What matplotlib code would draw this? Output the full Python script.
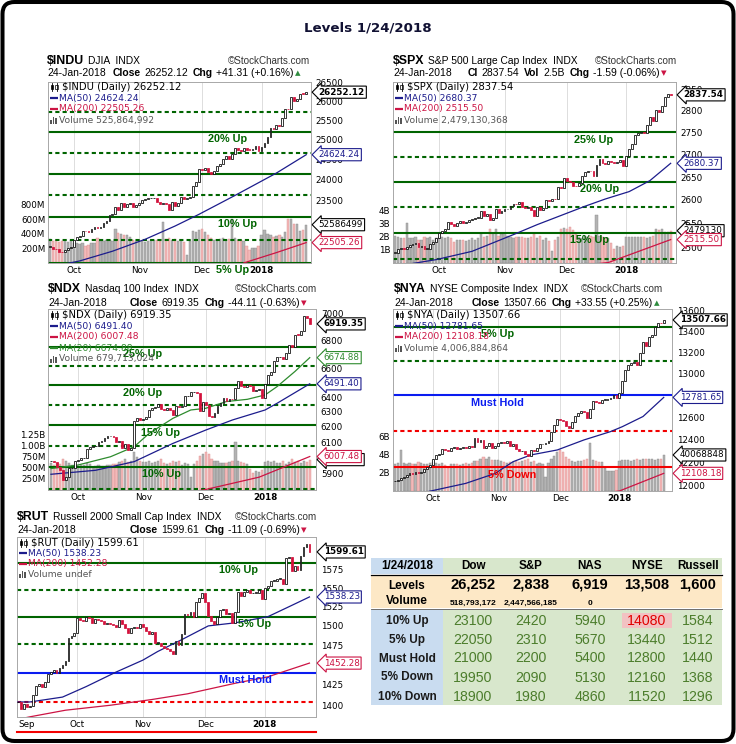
import numpy as np
import pandas as pd
import matplotlib
matplotlib.use('Agg')
import matplotlib.pyplot as plt
from matplotlib.patches import Rectangle, FancyBboxPatch
from matplotlib.ticker import FixedLocator, FixedFormatter, NullLocator
from matplotlib.transforms import blended_transform_factory

W, H = 736, 744

holidays = ['2017-09-04', '2017-11-23', '2017-12-25', '2018-01-01', '2018-01-15']

# ---------------- $INDU (from 2017-09-20) ----------------
indu_close = [22412, 22359, 22349, 22296, 22284, 22341, 22381, 22405,
              22557, 22642, 22661, 22775, 22774, 22761, 22831, 22873, 22841, 22871, 22957, 22997,
              23158, 23163, 23329, 23274, 23441, 23329, 23401, 23434, 23349, 23377,
              23436, 23517, 23539, 23549, 23557, 23563, 23462, 23422, 23440, 23410, 23272, 23458,
              23358, 23431, 23591, 23526, 23558, 23580, 23836, 23940, 24272,
              24231, 24290, 24180, 24140, 24212, 24329, 24386, 24504, 24585, 24509, 24652, 24792,
              24755, 24726, 24782, 24754, 24746, 24775, 24838, 24719,
              24825, 24922, 25075, 25296, 25283, 25386, 25370, 25575, 25803, 25793, 26116, 26017,
              26072, 26215, 26211, 26252.12]
indu_vol = [330, 300, 310, 290, 300, 320, 290, 310,
            280, 270, 260, 270, 240, 250, 270, 280, 345, 300, 300, 310, 320, 300, 470, 410, 400,
            380, 380, 360, 320, 300,
            310, 300, 290, 300, 320, 310, 320, 300, 560, 330, 350, 320, 330, 300, 310, 290, 110,
            300, 440, 430, 450,
            470, 420, 380, 340, 310, 320, 330, 340, 310, 330, 600, 350, 320, 310, 300, 230, 180,
            200, 210, 240,
            380, 460, 400, 380, 360, 370, 380, 360, 420, 600, 610, 530, 540, 440, 450, 526]
indu_ma50_dates = ['2017-09-20', '2017-10-04', '2017-10-19', '2017-11-03', '2017-11-17',
                   '2017-11-30', '2017-12-18', '2018-01-09', '2018-01-24']
indu_ma50 = [21950, 22086, 22307, 22582, 22890, 23165, 23614, 24166, 24624.24]
indu_ma200_dates = ['2017-12-21', '2018-01-09', '2018-01-24']
indu_ma200 = [22040, 22276, 22505.26]
indu_ticks = [23500, 24000, 24500, 25000, 25500, 26000, 26500]
indu_solid = [22050, 23100, 24150, 25200]
indu_dashed = [22575, 23625, 24675, 25725]
indu_tag_names = ['20% Up', '10% Up', '5% Up']
indu_tag_vals = [25200, 23100, 22050]

# ---------------- $SPX (from 2017-09-11) ----------------
spx_close = [2488.11, 2496.48, 2498.37, 2495.62, 2500.23, 2503.87, 2506.65, 2508.24, 2500.60,
             2502.22, 2496.66, 2496.84, 2507.04, 2510.06, 2519.36,
             2529.12, 2534.58, 2537.74, 2552.07, 2549.33, 2544.73, 2550.64, 2555.24, 2550.93,
             2553.17, 2557.64, 2559.36, 2561.26, 2562.10, 2575.21, 2564.98, 2569.13, 2557.15,
             2560.40, 2581.07, 2572.83, 2575.26,
             2579.36, 2579.85, 2587.84, 2591.13, 2590.64, 2594.38, 2584.62, 2582.30, 2584.84,
             2578.87, 2564.62, 2585.64, 2578.85, 2582.14, 2599.03, 2597.08, 2602.42, 2601.42,
             2627.04, 2626.07, 2647.58,
             2642.22, 2639.44, 2629.57, 2629.27, 2636.98, 2651.50, 2659.99, 2664.11, 2662.85,
             2652.01, 2675.81, 2690.16, 2681.47, 2679.25, 2684.57, 2683.34, 2680.50, 2682.62,
             2687.54, 2673.61,
             2695.81, 2713.06, 2723.99, 2743.15, 2747.71, 2751.29, 2748.23, 2767.56, 2786.24,
             2776.42, 2802.56, 2798.03, 2810.30, 2832.97, 2839.13, 2837.54]
spx_vol = [2.1, 2.0, 1.9, 1.9, 3.1, 1.9, 1.9, 2.0, 1.8, 1.8, 2.0, 1.9, 2.0, 1.8, 1.9,
           2.0, 2.0, 1.9, 2.0, 1.9, 1.6, 1.8, 1.8, 1.8, 1.7, 1.8, 1.9, 1.8, 1.9, 2.3, 2.0, 2.1,
           2.6, 2.3, 2.6, 2.1, 2.2,
           2.3, 2.1, 2.0, 1.9, 2.0, 2.0, 2.0, 1.9, 1.9, 2.0, 2.2, 1.9, 2.1, 1.8, 1.9, 1.7, 0.9,
           1.8, 2.0, 2.6, 2.7,
           2.6, 2.8, 2.5, 2.2, 2.0, 1.9, 2.1, 2.0, 2.1, 2.0, 3.7, 2.1, 2.0, 1.9, 1.9, 1.5, 1.1,
           1.3, 1.2, 1.3,
           2.0, 2.0, 2.0, 2.0, 2.0, 2.0, 2.0, 1.9, 2.0, 2.1, 2.6, 2.5, 2.6, 2.4, 2.4, 2.48]
spx_ma50_dates = ['2017-09-11', '2017-09-29', '2017-10-17', '2017-11-06', '2017-11-16',
                  '2017-11-28', '2017-12-11', '2017-12-20', '2018-01-03', '2018-01-12',
                  '2018-01-24']
spx_ma50 = [2460, 2474, 2491, 2526, 2547, 2564, 2586, 2602, 2618, 2642, 2680.37]
spx_ma200_dates = ['2017-09-11', '2017-12-21', '2018-01-24']
spx_ma200 = [2420, 2468, 2515.50]
spx_ticks = [2500, 2550, 2600, 2650, 2700, 2750, 2800, 2850]
spx_solid = [2530, 2640, 2750]
spx_dashed = [2475, 2585, 2695]
spx_tag_names = ['25% Up', '20% Up', '15% Up']
spx_tag_vals = [2750, 2640, 2530]

# ---------------- $NDX (from 2017-09-19) ----------------
ndx_close = [5979, 5975, 5940, 5925, 5860, 5875, 5935, 5936, 5979,
             5983, 5998, 5999, 6054, 6068, 6072, 6075, 6100, 6110, 6125, 6141, 6142, 6133, 6098,
             6106, 6062, 6085, 6049, 6065, 6239, 6256, 6248,
             6254, 6265, 6313, 6327, 6334, 6353, 6319, 6316, 6325, 6312, 6281, 6342, 6330, 6343,
             6406, 6411, 6432, 6433, 6428, 6304, 6367,
             6347, 6271, 6265, 6294, 6341, 6360, 6396, 6375, 6388, 6387, 6460, 6509, 6477, 6470,
             6485, 6479, 6445, 6448, 6454, 6397,
             6488, 6556, 6575, 6653, 6677, 6680, 6667, 6707, 6762, 6749, 6841, 6839, 6865, 6979,
             6963, 6919.35]
ndx_vol = [600, 560, 610, 590, 700, 650, 600, 560, 580,
           540, 560, 550, 600, 580, 520, 540, 560, 540, 530, 560, 570, 590, 580, 620, 650, 700,
           620, 640, 860, 740, 650,
           630, 620, 640, 600, 620, 640, 700, 600, 580, 600, 640, 620, 640, 560, 600, 590, 300,
           580, 640, 760, 800,
           840, 800, 700, 650, 640, 600, 610, 600, 620, 640, 1070, 660, 620, 600, 580, 480, 380,
           420, 400, 450,
           620, 640, 620, 640, 600, 600, 640, 580, 620, 700, 620, 640, 600, 640, 620, 680]
ndx_ma50_dates = ['2017-09-19', '2017-10-10', '2017-10-27', '2017-11-15', '2017-12-01',
                  '2017-12-14', '2018-01-02', '2018-01-08', '2018-01-24']
ndx_ma50 = [5895, 5920, 5975, 6092, 6179, 6246, 6313, 6358, 6491.40]
ndx_ma200_dates = ['2017-09-19', '2017-12-01', '2017-12-28', '2018-01-24']
ndx_ma200 = [5620, 5800, 5877, 6007.48]
ndx_ma20_dates = ['2017-09-19', '2017-10-02', '2017-10-17', '2017-10-27', '2017-11-03',
                  '2017-11-15', '2017-11-24', '2017-12-01', '2017-12-12', '2017-12-21',
                  '2018-01-02', '2018-01-08', '2018-01-17', '2018-01-24']
ndx_ma20 = [5931, 5953, 6006, 6071, 6157, 6257, 6313, 6324, 6370, 6385, 6415, 6472, 6577, 6674.88]
ndx_ticks = [5900, 6100, 6200, 6300, 6400, 6600, 6700, 6800, 7000]
ndx_solid = [5940, 6210, 6480, 6750]
ndx_dashed = [5805, 6075, 6345, 6615]
ndx_tag_names = ['25% Up', '20% Up', '15% Up', '10% Up']
ndx_tag_vals = [6750, 6480, 6210, 5940]

# ---------------- $NYA (from 2017-09-13) ----------------
nya_close = [12040, 12055, 12070, 12080, 12095, 12110, 12100, 12120, 12110, 12120, 12150,
             12160, 12180,
             12230, 12270, 12280, 12320, 12310, 12300, 12330, 12340, 12320, 12330, 12340, 12330,
             12350, 12340, 12420, 12380, 12400, 12330, 12350, 12370, 12330, 12350,
             12370, 12380, 12375, 12390, 12350, 12360, 12320, 12300, 12300, 12280, 12260, 12310,
             12300, 12330, 12360, 12360, 12370, 12390, 12470, 12530, 12590,
             12580, 12570, 12520, 12510, 12560, 12610, 12640, 12660, 12650, 12600, 12680, 12750,
             12740, 12730, 12760, 12760, 12770, 12780, 12800, 12780,
             12820, 12930, 13030, 13080, 13100, 13110, 13080, 13190, 13300, 13260, 13340, 13360,
             13440, 13480, 13474.11, 13507.66]
nya_vol = [3.0, 3.1, 4.6, 3.1, 3.0, 3.1, 3.0, 3.0, 3.2, 3.1, 3.0, 3.0, 3.1,
           3.2, 3.1, 3.0, 3.1, 2.9, 2.6, 3.0, 3.0, 3.0, 2.9, 3.0, 3.1, 3.0, 3.1, 3.3, 3.3, 3.5,
           3.8, 3.6, 3.8, 3.4, 3.4,
           3.4, 3.3, 3.2, 3.1, 3.2, 3.2, 3.3, 3.2, 3.3, 3.4, 3.6, 3.2, 3.3, 3.0, 3.1, 3.0, 1.6,
           3.1, 3.6, 3.9, 4.3,
           4.6, 4.3, 3.8, 3.5, 3.3, 3.2, 3.3, 3.3, 3.4, 3.5, 5.3, 3.4, 3.3, 3.2, 3.2, 2.5, 2.2,
           2.2, 2.2, 2.3,
           3.3, 3.4, 3.4, 3.4, 3.3, 3.4, 3.5, 3.4, 3.5, 3.6, 3.5, 3.5, 3.4, 3.6, 3.5, 4.0]
nya_ma50_dates = ['2017-09-13', '2017-09-29', '2017-10-17', '2017-10-31', '2017-11-08',
                  '2017-11-16', '2017-11-30', '2017-12-13', '2017-12-27', '2018-01-03',
                  '2018-01-12', '2018-01-24']
nya_ma50 = [11900, 11956, 12022, 12108, 12209, 12268, 12312, 12400, 12474, 12518, 12609, 12781.65]
nya_ma200_dates = ['2017-09-13', '2018-01-02', '2018-01-24']
nya_ma200 = [11700, 11957, 12108.18]
nya_ticks = [12000, 12200, 12400, 12600, 13000, 13200, 13400, 13600]
nya_green_solid = [13440]
nya_green_dashed = [13120]
nya_must_hold = [12800]
nya_red_dashed = [12480]
nya_red_solid = [12160]

# ---------------- $RUT (from 2017-09-01) ----------------
rut_close = [1404, 1396, 1401, 1398, 1399, 1413, 1424, 1426, 1423, 1428, 1438, 1441, 1443,
             1440, 1446, 1450, 1455, 1484, 1487, 1491,
             1510, 1508, 1507, 1511, 1510, 1504, 1509, 1508, 1506, 1502, 1504, 1503, 1501, 1498,
             1508, 1503, 1497, 1491, 1497, 1499, 1497, 1503,
             1499, 1493, 1490, 1492, 1478, 1478, 1474, 1472, 1470, 1468, 1464, 1480, 1475, 1490,
             1515, 1514, 1518, 1512, 1531, 1537, 1544,
             1532, 1513, 1506, 1503, 1511, 1521, 1522, 1516, 1517, 1504, 1518, 1545, 1540, 1545,
             1548, 1543, 1544, 1544, 1548, 1536,
             1550, 1553, 1560, 1560, 1563, 1563, 1555, 1591, 1592, 1573, 1580, 1574, 1594, 1606,
             1610.70, 1599.61]
rut_ma50_dates = ['2017-09-01', '2017-09-08', '2017-09-25', '2017-10-05', '2017-10-19',
                  '2017-11-01', '2017-11-08', '2017-11-20', '2017-12-04', '2017-12-15',
                  '2018-01-03', '2018-01-12', '2018-01-24']
rut_ma50 = [1404, 1404, 1410, 1423, 1441, 1456, 1467, 1482, 1500, 1504, 1512, 1525, 1538.23]
rut_ma200_dates = ['2017-09-01', '2017-09-08', '2017-09-26', '2017-10-17', '2017-11-06',
                   '2017-11-22', '2017-12-15', '2018-01-03', '2018-01-24']
rut_ma200 = [1383, 1386, 1394, 1400, 1407, 1414, 1427, 1435, 1452.28]
rut_ticks = [1400, 1425, 1475, 1500, 1525, 1550, 1575]
rut_green_solid = [1584, 1512]
rut_green_dashed = [1548, 1476]
rut_must_hold = [1440]
rut_red_dashed = [1404]
rut_red_solid = [1368]

# ---------------- table ----------------
tbl_date = '1/24/2018'
tbl_cols = ['Dow', 'S&P', 'NAS', 'NYSE', 'Russell']
tbl_levels = ['26,252', '2,838', '6,919', '13,508', '1,600']
tbl_volume = ['518,793,172', '2,447,566,185', '0', '', '']
tbl_rows = ['10% Up', '5% Up', 'Must Hold', '5% Down', '10% Down']
tbl_vals = [[23100, 2420, 5940, 14080, 1584],
            [22050, 2310, 5670, 13440, 1512],
            [21000, 2200, 5400, 12800, 1440],
            [19950, 2090, 5130, 12160, 1368],
            [18900, 1980, 4860, 11520, 1296]]

GREEN = '#006400'
BLUE = '#0a1cf0'
RED = '#f20000'
NAVY = '#1c1c8c'
CRIMSON = '#cc1444'
MA20C = '#2e8b2e'
SANS = 'Liberation Sans'

plt.rcParams['font.family'] = 'DejaVu Sans'

fig = plt.figure(figsize=(W / 100, H / 100), dpi=100)
renderer = fig.canvas.get_renderer()

tdays = pd.bdate_range('2017-08-28', '2018-01-24')
tdays = tdays[~tdays.isin(pd.to_datetime(holidays))]


def draw_panel(box, start, close, vol, ylim, yticks, xlim, vtop, vticks, vlabels,
               lines, tags, mas, boxes, first_label=None):
    l, t, r, b = box
    axv = fig.add_axes([l / W, 1 - b / H, (r - l) / W, (b - t) / H])
    ax = axv.twinx()
    days = tdays[tdays >= pd.Timestamp(start)]
    n = len(days)
    assert n == len(close), (start, n, len(close))
    x = np.arange(n)
    c = np.array(close, float)
    o = np.r_[c[0], c[:-1]]
    dn = c < o

    if vol is not None:
        assert len(vol) == n
        axv.bar(x, vol, width=0.75, color=np.where(dn, '#f3b9b9', '#b3b3b3'),
                edgecolor=np.where(dn, '#dd9090', '#8a8a8a'), linewidth=0.3, zorder=1)
        axv.set_yticks(vticks)
        axv.set_yticklabels(vlabels)
    else:
        axv.set_yticks([])
    axv.set_ylim(0, vtop)

    months = [i for i in range(1, n) if days[i].month != days[i - 1].month]
    labels = ['2018' if days[i].year == 2018 else days[i].strftime('%b') for i in months]
    for i in months:
        axv.axvline(i, color='#d8d8d8', lw=0.6, zorder=0)
    if first_label:
        months = [0] + months
        labels = [first_label] + labels
    axv.set_xticks(months)
    axv.set_xticklabels(labels)
    for lab in axv.get_xticklabels():
        if lab.get_text() == '2018':
            lab.set_fontweight('bold')
        if lab.get_text() == first_label:
            lab.set_ha('left')
    axv.tick_params(axis='x', length=0, pad=2.2, labelsize=6.3)
    axv.tick_params(axis='y', length=0, pad=2, labelsize=6.3)

    ax.set_yscale('log')
    tr = blended_transform_factory(ax.transAxes, ax.transData)
    for val, col, dashed in lines:
        ax.axhline(val, color=col, lw=1.5, ls=(0, (2.0, 1.5)) if dashed else '-',
                   zorder=2, clip_on=val >= ylim[0])
    for name, val, col, xf in tags:
        ax.annotate(name, xy=(xf, val), xycoords=tr, xytext=(0, -1.6),
                    textcoords='offset points', ha='center', va='top', fontsize=7.8,
                    fontweight='bold', color=col, family=SANS, annotation_clip=False,
                    zorder=6)
    for dates, vals, col in mas:
        xi = [days.get_loc(pd.Timestamp(d)) for d in dates]
        ax.plot(xi, vals, color=col, lw=0.9, zorder=3)

    lo = np.minimum(o, c)
    hi = np.maximum(np.maximum(o, c), lo * 1.0004)
    ax.bar(x, hi - lo, bottom=lo, width=0.62, color=np.where(dn, '#d3123c', 'white'),
           edgecolor=np.where(dn, '#d3123c', 'black'), linewidth=0.55, zorder=4)
    ax.set_ylim(*ylim)
    ax.yaxis.set_major_locator(FixedLocator(yticks))
    ax.yaxis.set_major_formatter(FixedFormatter([str(v) for v in yticks]))
    ax.yaxis.set_minor_locator(NullLocator())
    ax.tick_params(axis='y', which='both', length=0, pad=3.5, labelsize=6.3)

    for txt, val, col, bold, onvol in boxes:
        if onvol:
            xy, xyc = (1, val / vtop), 'axes fraction'
        else:
            xy, xyc = (1, val), tr
        ax.annotate(txt, xy=xy, xycoords=xyc, xytext=(5.5, 0), textcoords='offset points',
                    ha='left', va='center', fontsize=6.3,
                    fontweight='bold' if bold else 'normal', color=col,
                    bbox=dict(boxstyle='larrow,pad=0.18', fc='white', ec=col, lw=0.8),
                    annotation_clip=False, zorder=10)

    for a in (axv, ax):
        for s in a.spines.values():
            s.set_color('#a8a8a8')
            s.set_linewidth(0.6)
    axv.set_xlim(*xlim)


def green_lines(solid, dashed):
    return [(v, GREEN, False) for v in solid] + [(v, GREEN, True) for v in dashed]


# INDU
draw_panel((48, 82, 311, 263), '2017-09-20', indu_close, indu_vol,
           (22040, 26527), indu_ticks,
           (-0.6, 87.6), 2486, [200, 400, 600, 800], ['200M', '400M', '600M', '800M'],
           green_lines(indu_solid, indu_dashed),
           [(nm, v, GREEN, xf) for nm, v, xf in zip(indu_tag_names, indu_tag_vals,
                                                    [0.684, 0.719, 0.703])],
           [(indu_ma50_dates, indu_ma50, NAVY), (indu_ma200_dates, indu_ma200, CRIMSON)],
           [('26252.12', indu_close[-1], 'black', True, False),
            ('24624.24', indu_ma50[-1], NAVY, False, False),
            ('52586499', indu_vol[-1], 'black', False, True),
            ('22505.26', indu_ma200[-1], CRIMSON, False, False)])

# SPX
draw_panel((393, 82, 676, 263), '2017-09-11', spx_close, spx_vol,
           (2467, 2868), spx_ticks,
           (-0.6, 94.8), 13.9, [1, 2, 3, 4], ['1B', '2B', '3B', '4B'],
           green_lines(spx_solid, spx_dashed),
           [(nm, v, GREEN, xf) for nm, v, xf in zip(spx_tag_names, spx_tag_vals,
                                                    [0.707, 0.731, 0.696])],
           [(spx_ma50_dates, spx_ma50, NAVY), (spx_ma200_dates, spx_ma200, CRIMSON)],
           [('2837.54', spx_close[-1], 'black', True, False),
            ('2680.37', spx_ma50[-1], NAVY, False, False),
            ('2479130', spx_vol[-1], 'black', False, True),
            ('2515.50', spx_ma200[-1], CRIMSON, False, False)])

# NDX
draw_panel((48, 309, 316, 490), '2017-09-19', ndx_close, ndx_vol,
           (5797, 7030), ndx_ticks,
           (-1.0, 89.1), 4051, [250, 500, 750, 1000, 1250],
           ['250M', '500M', '750M', '1.00B', '1.25B'],
           green_lines(ndx_solid, ndx_dashed),
           [(nm, v, GREEN, xf) for nm, v, xf in zip(ndx_tag_names, ndx_tag_vals,
                                                    [0.354, 0.354, 0.418, 0.425])],
           [(ndx_ma50_dates, ndx_ma50, NAVY), (ndx_ma200_dates, ndx_ma200, CRIMSON),
            (ndx_ma20_dates, ndx_ma20, MA20C)],
           [('6919.35', ndx_close[-1], 'black', True, False),
            ('6674.88', ndx_ma20[-1], MA20C, False, False),
            ('6491.40', ndx_ma50[-1], NAVY, False, False),
            ('6797130', ndx_vol[-1], 'black', False, True),
            ('6007.48', ndx_ma200[-1], CRIMSON, False, False)])

# NYA
draw_panel((393, 309, 672, 491), '2017-09-13', nya_close, nya_vol,
           (11957, 13613), nya_ticks,
           (-0.6, 93.8), 20.2, [2, 4, 6], ['2B', '4B', '6B'],
           green_lines(nya_green_solid, nya_green_dashed)
           + [(v, BLUE, False) for v in nya_must_hold]
           + [(v, RED, True) for v in nya_red_dashed]
           + [(v, RED, False) for v in nya_red_solid],
           [('5% Up', nya_green_solid[0], GREEN, 0.376),
            ('Must Hold', nya_must_hold[0], BLUE, 0.373),
            ('5% Down', nya_red_solid[0], RED, 0.427)],
           [(nya_ma50_dates, nya_ma50, NAVY), (nya_ma200_dates, nya_ma200, CRIMSON)],
           [('13507.66', nya_close[-1], 'black', True, False),
            ('12781.65', nya_ma50[-1], NAVY, False, False),
            ('40068848', nya_vol[-1], 'black', False, True),
            ('12108.18', nya_ma200[-1], CRIMSON, False, False)])

# RUT
draw_panel((17, 537, 316, 717), '2017-09-01', rut_close, None,
           (1385.8, 1620.5), rut_ticks,
           (-0.3, 100.2), 1, [], [],
           green_lines(rut_green_solid, rut_green_dashed)
           + [(v, BLUE, False) for v in rut_must_hold]
           + [(v, RED, True) for v in rut_red_dashed]
           + [(v, RED, False) for v in rut_red_solid],
           [('10% Up', rut_green_solid[0], GREEN, 0.742),
            ('5% Up', rut_green_solid[1], GREEN, 0.796),
            ('Must Hold', rut_must_hold[0], BLUE, 0.763)],
           [(rut_ma50_dates, rut_ma50, NAVY), (rut_ma200_dates, rut_ma200, CRIMSON)],
           [('1599.61', rut_close[-1], 'black', True, False),
            ('1538.23', rut_ma50[-1], NAVY, False, False),
            ('1452.28', rut_ma200[-1], CRIMSON, False, False)],
           first_label='Sep')

# ---------------- overlay: headers, legends, table, frame ----------------
ov = fig.add_axes([0, 0, 1, 1], zorder=5)
ov.set_xlim(0, W)
ov.set_ylim(H, 0)
ov.axis('off')


def header(x1, y1, sym, desc, right_x, y2, chain_x, parts, up):
    t = ov.text(x1, y1, sym, fontsize=8.9, fontweight='bold', family=SANS, va='baseline')
    x = x1 + t.get_window_extent(renderer).width + 4
    ov.text(x, y1, desc, fontsize=7.4, family=SANS, va='baseline')
    ov.text(right_x, y1, '©StockCharts.com', fontsize=7.1, family=SANS, ha='right',
            va='baseline', color='#333333')
    ov.text(x1, y2, '24-Jan-2018', fontsize=7.5, family=SANS, va='baseline')
    x = chain_x
    for k, p in enumerate(parts):
        t = ov.text(x, y2, p, fontsize=7.5, family=SANS, va='baseline',
                    fontweight='bold' if k % 2 == 0 else 'normal')
        x += t.get_window_extent(renderer).width + (3.3 if k % 2 == 0 else 5)
    ov.text(x - 3.5, y2 - 0.5, '▲' if up else '▼', fontsize=5.2, va='baseline',
            color='#2e8b3e' if up else '#cc1444')


header(47, 64, '$INDU', 'DJIA  INDX', 310, 76, 112.7,
       ['Close', '26252.12', 'Chg', '+41.31 (+0.16%)'], True)
header(393, 64, '$SPX', 'S&P 500 Large Cap Index  INDX', 677, 76, 468,
       ['Cl', '2837.54', 'Vol', '2.5B', 'Chg', '-1.59 (-0.06%)'], False)
header(48, 292, '$NDX', 'Nasdaq 100 Index  INDX', 317, 306, 130,
       ['Close', '6919.35', 'Chg', '-44.11 (-0.63%)'], False)
header(394, 292, '$NYA', 'NYSE Composite Index  INDX', 663, 306, 472,
       ['Close', '13507.66', 'Chg', '+33.55 (+0.25%)'], True)
header(17, 520, '$RUT', 'Russell 2000 Small Cap Index  INDX', 317, 533, 130,
       ['Close', '1599.61', 'Chg', '-11.09 (-0.69%)'], False)


def legend(l, y0, rows, step=11):
    for k, (kind, txt) in enumerate(rows):
        y = y0 + k * step
        if kind == 'price':
            for dx, fc in ((0, 'black'), (4.5, 'white')):
                ov.plot([l + 4 + dx, l + 4 + dx], [y - 4, y + 4], color='black', lw=0.6)
                ov.add_patch(Rectangle((l + 2.8 + dx, y - 2.2), 2.4, 4.4, fc=fc,
                                       ec='black', lw=0.5))
            ov.text(l + 14, y, txt, fontsize=7.2, va='center', color='black')
        elif kind == 'vol':
            for dx, hh in ((0, 4), (2.5, 7), (5, 5.5)):
                ov.add_patch(Rectangle((l + 2 + dx, y + 3.5 - hh), 1.8, hh, fc='#555555',
                                       ec='none'))
            ov.text(l + 11, y, txt, fontsize=6.6, va='center', color='#555555')
        else:
            col = {'ma50': NAVY, 'ma200': CRIMSON, 'ma20': MA20C}[kind]
            ov.plot([l + 2, l + 10], [y, y], color=col, lw=1.6, solid_capstyle='butt')
            ov.text(l + 11, y, txt, fontsize=6.6, va='center', color=col)


legend(48, 87, [('price', '$INDU (Daily) 26252.12'), ('ma50', 'MA(50) 24624.24'),
                ('ma200', 'MA(200) 22505.26'), ('vol', 'Volume 525,864,992')])
legend(393, 87, [('price', '$SPX (Daily) 2837.54'), ('ma50', 'MA(50) 2680.37'),
                 ('ma200', 'MA(200) 2515.50'), ('vol', 'Volume 2,479,130,368')])
legend(48, 315, [('price', '$NDX (Daily) 6919.35'), ('ma50', 'MA(50) 6491.40'),
                 ('ma200', 'MA(200) 6007.48'), ('ma20', 'MA(20) 6674.88'),
                 ('vol', 'Volume 679,713,024')])
legend(393, 315, [('price', '$NYA (Daily) 13507.66'), ('ma50', 'MA(50) 12781.65'),
                  ('ma200', 'MA(200) 12108.18'), ('vol', 'Volume 4,006,884,864')])
legend(17, 543, [('price', '$RUT (Daily) 1599.61'), ('ma50', 'MA(50) 1538.23'),
                 ('ma200', 'MA(200) 1452.28'), ('vol', 'Volume undef')], step=10.4)

# title
ov.text(368, 28, 'Levels 1/24/2018', fontsize=9.6, fontweight='bold', ha='center',
        va='center', color='#111133')

# table
CELL_BLUE = '#c9dcf0'
CELL_GREEN = '#d8e7cc'
CELL_PEACH = '#fde8c6'
VAL_GREEN = '#4c7d2c'
col_x = [473, 531, 590, 647, 698]
row_y = [621, 640, 658.5, 677.5, 697]
ov.add_patch(Rectangle((371, 558), 72, 16, fc=CELL_BLUE, ec='none'))
ov.add_patch(Rectangle((443, 558), 279, 16, fc=CELL_GREEN, ec='none'))
ov.add_patch(Rectangle((371, 575), 351, 33, fc=CELL_PEACH, ec='none'))
ov.add_patch(Rectangle((371, 610), 72, 95, fc=CELL_BLUE, ec='none'))
ov.add_patch(Rectangle((443, 610), 279, 95, fc=CELL_GREEN, ec='none'))
ov.plot([371, 722], [574.5, 574.5], color='black', lw=0.9)
ov.plot([371, 722], [609, 609], color='#555555', lw=0.6)
ov.text(407, 566, tbl_date, fontsize=8.4, fontweight='bold', family=SANS, ha='center',
        va='center')
for cx, name in zip(col_x, tbl_cols):
    ov.text(cx, 566, name, fontsize=8.4, fontweight='bold', family=SANS, ha='center',
            va='center')
ov.text(407, 586, 'Levels', fontsize=8.5, fontweight='bold', family=SANS, ha='center',
        va='center')
ov.text(407, 601.5, 'Volume', fontsize=8.5, fontweight='bold', family=SANS, ha='center',
        va='center')
for cx, lv, vv in zip(col_x, tbl_levels, tbl_volume):
    ov.text(cx, 584.5, lv, fontsize=10.6, fontweight='bold', family=SANS, ha='center',
            va='center')
    ov.text(cx, 603.5, vv, fontsize=6, fontweight='bold', family=SANS, ha='center',
            va='center')
for ry, name, vals in zip(row_y, tbl_rows, tbl_vals):
    ov.text(407, ry, name, fontsize=8.5, fontweight='bold', family=SANS, ha='center',
            va='center', color='#1a1a1a')
    for k, (cx, v) in enumerate(zip(col_x, vals)):
        col = VAL_GREEN
        if ry == row_y[0] and k == 3:
            ov.add_patch(Rectangle((621.5, 613), 50, 14.5, fc='#f2c2c2', ec='none'))
            col = '#e00000'
        ov.text(cx, ry, str(v), fontsize=10.2, family=SANS, ha='center', va='center',
                color=col)

# outer frame
ov.add_patch(FancyBboxPatch((2.5, 2), 731, 739, boxstyle='round,pad=0,rounding_size=12',
                            lw=2.9, ec='black', fc='none', clip_on=False))

fig.savefig('out.png', dpi=100)
